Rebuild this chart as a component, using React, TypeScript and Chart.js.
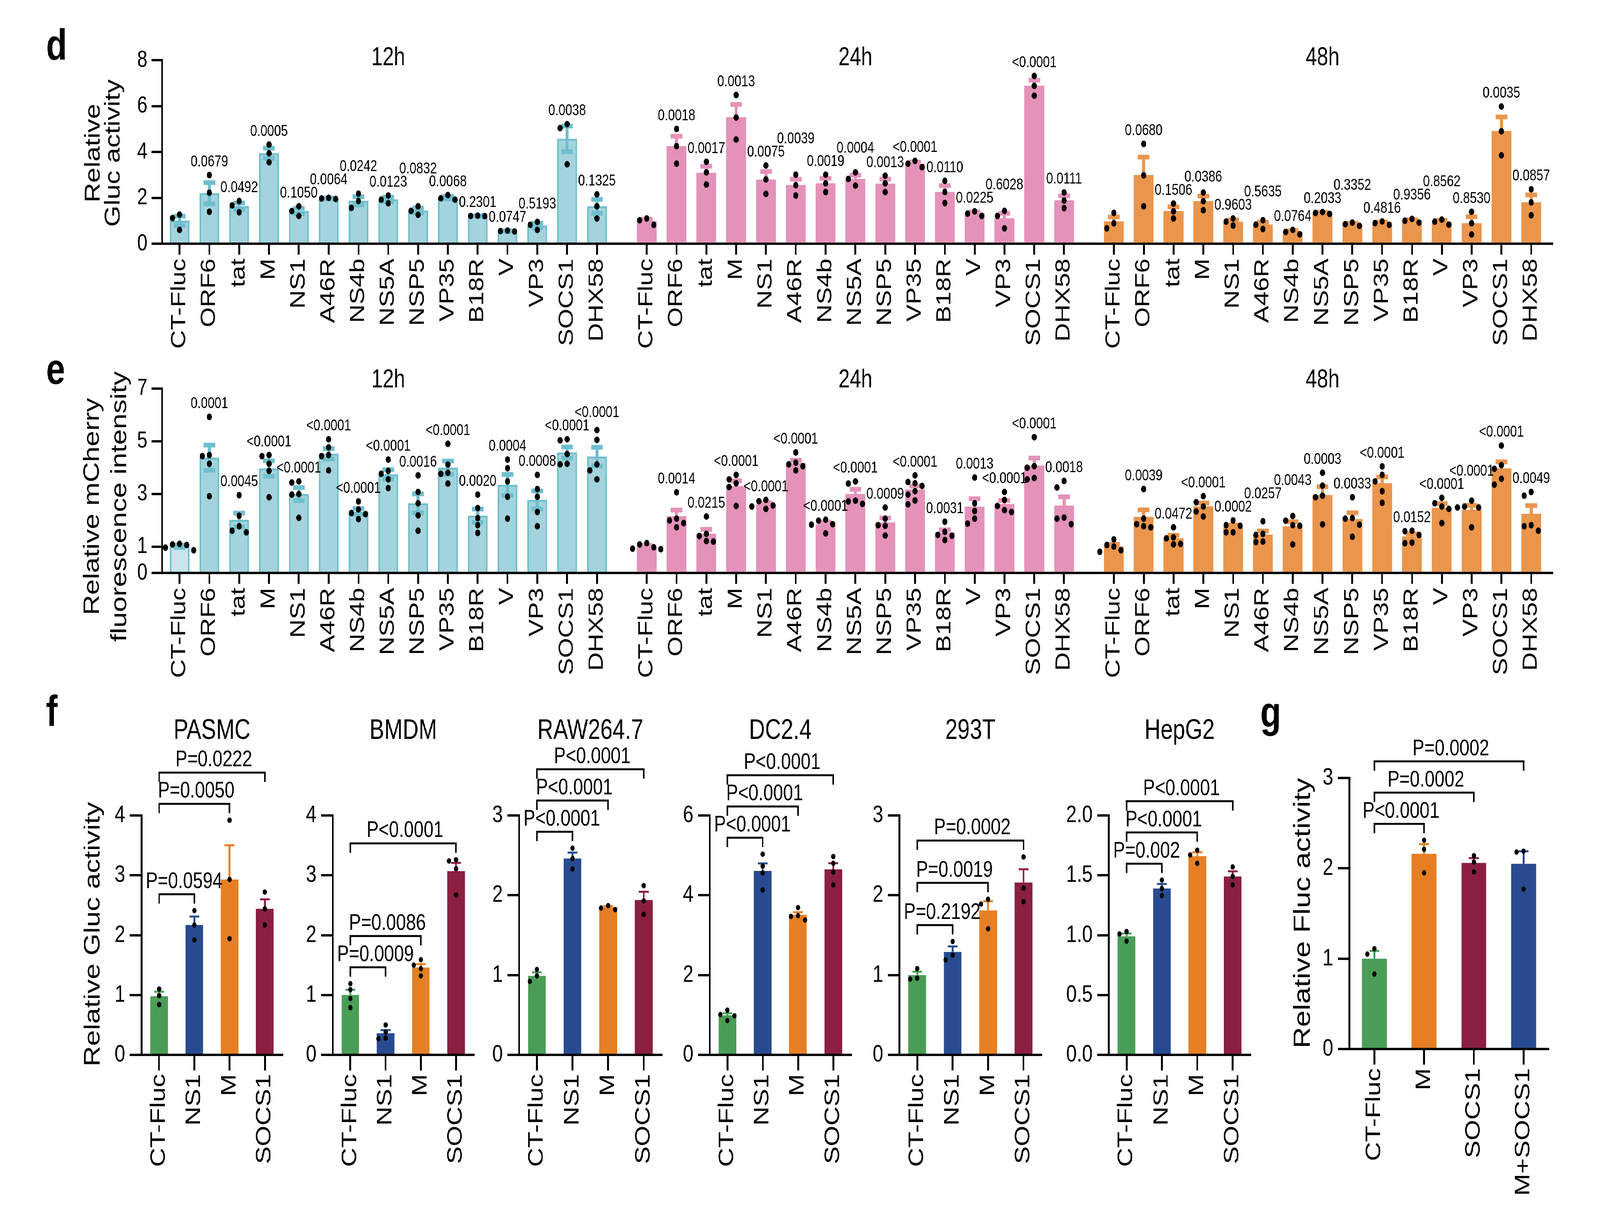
import React, { useEffect, useRef } from 'react';
import { Chart, registerables } from 'chart.js';

Chart.register(...registerables);

const FONT = "'Liberation Sans', Arial, Helvetica, sans-serif";
const PAGE_W = 5212;
const PAGE_H = 3152;

// ================= Panels d & e : data =================
const GENES = ['CT-Fluc', 'ORF6', 'tat', 'M', 'NS1', 'A46R', 'NS4b', 'NS5A', 'NSP5', 'VP35', 'B18R', 'V', 'VP3', 'SOCS1', 'DHX58'];
const TIMEPOINTS = ['12h', '24h', '48h'];

// d : Relative Gluc activity
const GLUC_12H_MEAN = [1.0, 2.2, 1.63, 3.94, 1.42, 1.97, 1.87, 1.93, 1.44, 2.01, 1.21, 0.55, 0.79, 4.57, 1.63];
const GLUC_12H_POINTS = [
  [1.27, 1.12, 0.6], [2.99, 2.22, 1.39], [1.86, 1.67, 1.37], [4.32, 3.94, 3.55], [1.63, 1.42, 1.21],
  [2.0, 1.97, 1.95], [2.18, 1.86, 1.56], [2.1, 1.92, 1.76], [1.63, 1.43, 1.26], [2.12, 1.98, 1.92],
  [1.22, 1.21, 1.2], [0.57, 0.55, 0.53], [0.95, 0.82, 0.6], [5.21, 5.04, 3.46], [2.15, 1.63, 1.1],
];
const GLUC_12H_P = ['', '0.0679', '0.0492', '0.0005', '0.1050', '0.0064', '0.0242', '0.0123', '0.0832', '0.0068', '0.2301', '0.0747', '0.5193', '0.0038', '0.1325'];

const GLUC_24H_MEAN = [0.98, 4.25, 3.09, 5.51, 2.79, 2.55, 2.63, 2.82, 2.61, 3.48, 2.25, 1.33, 1.1, 6.88, 1.89];
const GLUC_24H_POINTS = [
  [1.1, 1.02, 0.82], [5.0, 4.25, 3.49], [3.57, 3.11, 2.58], [6.48, 5.5, 4.54], [3.41, 2.8, 2.17],
  [3.01, 2.55, 2.1], [3.01, 2.63, 2.25], [3.11, 2.82, 2.53], [2.96, 2.63, 2.25], [3.61, 3.49, 3.33],
  [2.74, 2.25, 1.77], [1.41, 1.31, 1.21], [1.43, 1.21, 0.67], [7.31, 6.88, 6.45], [2.23, 1.88, 1.55],
];
const GLUC_24H_P = ['', '0.0018', '0.0017', '0.0013', '0.0075', '0.0039', '0.0019', '0.0004', '0.0013', '<0.0001', '0.0110', '0.0225', '0.6028', '<0.0001', '0.0111'];

const GLUC_48H_MEAN = [0.97, 2.99, 1.42, 1.85, 0.95, 0.83, 0.51, 1.34, 0.85, 0.9, 1.0, 0.95, 0.89, 4.91, 1.8];
const GLUC_48H_POINTS = [
  [1.34, 0.89, 0.67], [4.35, 2.98, 1.63], [1.75, 1.41, 1.1], [2.23, 1.85, 1.46], [1.1, 0.96, 0.79],
  [1.02, 0.83, 0.64], [0.6, 0.51, 0.41], [1.38, 1.34, 1.3], [0.92, 0.85, 0.78], [0.97, 0.9, 0.82],
  [1.08, 1.0, 0.92], [1.05, 0.96, 0.83], [1.39, 0.89, 0.4], [5.98, 4.9, 3.85], [2.37, 1.8, 1.24],
];
const GLUC_48H_P = ['', '0.0680', '0.1506', '0.0386', '0.9603', '0.5635', '0.0764', '0.2033', '0.3352', '0.4816', '0.9356', '0.8562', '0.8530', '0.0035', '0.0857'];

// e : Relative mCherry fluorescence intensity
const MCH_12H_MEAN = [1.01, 4.37, 2.01, 3.96, 2.99, 4.52, 2.33, 3.74, 2.64, 3.99, 2.17, 3.34, 2.77, 4.57, 4.41];
const MCH_12H_POINTS = [
  [1.1, 1.08, 1.06, 0.96, 0.86], [5.92, 4.47, 4.43, 4.14, 2.91], [2.95, 2.17, 1.77, 1.6, 1.54],
  [4.47, 4.43, 4.14, 3.87, 2.87], [3.47, 3.43, 2.99, 2.97, 2.09], [5.07, 4.76, 4.47, 4.43, 3.89],
  [2.71, 2.41, 2.27, 2.23, 2.04], [4.3, 3.87, 3.76, 3.55, 3.22], [3.7, 3.07, 2.64, 2.18, 1.6],
  [4.9, 4.11, 3.8, 3.76, 3.39], [2.97, 2.46, 2.08, 1.81, 1.52], [4.3, 3.97, 3.47, 2.89, 2.06],
  [3.72, 3.18, 2.89, 2.31, 1.77], [5.07, 5.03, 4.51, 4.14, 4.12], [5.42, 5.05, 4.12, 3.89, 3.55],
];
const MCH_12H_P = ['', '0.0001', '0.0045', '<0.0001', '<0.0001', '<0.0001', '<0.0001', '<0.0001', '0.0016', '<0.0001', '0.0020', '0.0004', '0.0008', '<0.0001', '<0.0001'];

const MCH_24H_MEAN = [1.0, 2.15, 1.48, 3.29, 2.6, 4.16, 1.84, 2.99, 1.91, 3.16, 1.52, 2.51, 2.61, 4.07, 2.55];
const MCH_24H_POINTS = [
  [1.13, 1.08, 0.97, 0.92, 0.9], [3.06, 2.06, 1.99, 1.89, 1.73], [2.14, 1.48, 1.4, 1.21, 1.19],
  [3.72, 3.55, 3.4, 3.26, 2.54], [2.77, 2.72, 2.56, 2.52, 2.43], [4.57, 4.18, 4.12, 4.05, 3.89],
  [2.02, 1.98, 1.85, 1.83, 1.5], [3.47, 3.39, 2.74, 2.71, 2.62], [2.48, 2.06, 1.81, 1.79, 1.42],
  [3.7, 3.45, 3.4, 3.3, 3.1, 2.97, 2.75, 2.6], [1.94, 1.56, 1.44, 1.41, 1.25], [3.62, 2.64, 2.35, 2.06, 1.87],
  [3.07, 2.77, 2.54, 2.38, 2.31], [5.15, 4.05, 3.99, 3.6, 3.55], [3.49, 3.24, 2.1, 2.06, 1.85],
];
const MCH_24H_P = ['', '0.0014', '0.0215', '<0.0001', '<0.0001', '<0.0001', '<0.0001', '<0.0001', '0.0009', '<0.0001', '0.0031', '0.0013', '<0.0001', '<0.0001', '0.0018'];

const MCH_48H_MEAN = [1.0, 2.12, 1.31, 2.52, 1.73, 1.45, 1.76, 2.95, 2.04, 3.4, 1.38, 2.47, 2.39, 3.96, 2.24];
const MCH_48H_POINTS = [
  [1.27, 1.06, 1.0, 0.86, 0.8], [3.18, 2.06, 1.85, 1.77, 1.73], [1.73, 1.35, 1.31, 1.1, 1.08],
  [2.91, 2.68, 2.52, 2.33, 2.14], [1.99, 1.81, 1.79, 1.54, 1.54], [1.96, 1.48, 1.44, 1.19, 1.17],
  [2.16, 1.98, 1.81, 1.79, 1.08], [3.8, 3.31, 2.93, 2.87, 1.84], [2.87, 2.08, 2.06, 1.83, 1.37],
  [4.04, 3.72, 3.47, 3.1, 2.66], [1.6, 1.58, 1.44, 1.13, 1.15], [2.85, 2.64, 2.52, 2.43, 1.89],
  [2.74, 2.52, 2.48, 2.48, 1.73], [4.83, 4.09, 3.95, 3.57, 3.35], [3.07, 2.93, 1.81, 1.77, 1.6],
];
const MCH_48H_P = ['', '0.0039', '0.0472', '<0.0001', '0.0002', '0.0257', '0.0043', '0.0003', '0.0033', '<0.0001', '0.0152', '<0.0001', '<0.0001', '<0.0001', '0.0049'];

const D_TICKS = [0, 2, 4, 6, 8];
const E_TICKS = [0, 1, 3, 5, 7];

// ================= Panels f & g : data =================
const CELL_GENES = ['CT-Fluc', 'NS1', 'M', 'SOCS1'];

const PASMC_MEAN = [0.98, 2.17, 2.93, 2.44];
const PASMC_POINTS = [[1.1, 0.99, 0.84], [2.41, 2.17, 1.92], [3.92, 2.93, 1.94], [2.72, 2.44, 2.17]];
const PASMC_P = ['P=0.0594', 'P=0.0050', 'P=0.0222'];

const BMDM_MEAN = [1.0, 0.36, 1.46, 3.07];
const BMDM_POINTS = [[1.19, 1.09, 0.94, 0.79], [0.5, 0.38, 0.28, 0.27], [1.59, 1.5, 1.44, 1.32], [3.26, 3.24, 3.11, 2.67]];
const BMDM_P = ['P=0.0009', 'P=0.0086', 'P<0.0001'];

const RAW_MEAN = [0.99, 2.46, 1.85, 1.94];
const RAW_POINTS = [[1.07, 0.99, 0.92], [2.59, 2.46, 2.33], [1.87, 1.84, 1.82], [2.12, 1.93, 1.76]];
const RAW_P = ['P<0.0001', 'P<0.0001', 'P<0.0001'];

const DC_MEAN = [0.99, 4.61, 3.51, 4.65];
const DC_POINTS = [[1.12, 1.01, 0.98, 0.86], [5.03, 4.73, 4.56, 4.13], [3.69, 3.49, 3.47, 3.38], [4.97, 4.8, 4.58, 4.26]];
const DC_P = ['P<0.0001', 'P<0.0001', 'P<0.0001'];

const T293_MEAN = [1.0, 1.29, 1.81, 2.16];
const T293_POINTS = [[1.08, 0.96, 0.95], [1.42, 1.25, 1.19], [1.95, 1.89, 1.58], [2.48, 2.09, 1.92]];
const T293_P = ['P=0.2192', 'P=0.0019', 'P=0.0002'];

const HEPG2_MEAN = [0.99, 1.39, 1.66, 1.49];
const HEPG2_POINTS = [[1.03, 1.01, 0.95], [1.46, 1.39, 1.33], [1.71, 1.67, 1.6], [1.57, 1.49, 1.42]];
const HEPG2_P = ['P=0.002', 'P<0.0001', 'P<0.0001'];

const G_GENES = ['CT-Fluc', 'M', 'SOCS1', 'M+SOCS1'];
const FLUC_MEAN = [1.0, 2.16, 2.06, 2.05];
const FLUC_POINTS = [[1.11, 1.05, 0.83], [2.31, 2.21, 1.95], [2.14, 2.07, 1.96], [2.19, 2.18, 1.77]];
const FLUC_P = ['P<0.0001', 'P=0.0002', 'P=0.0002'];

// ================= styles =================
const GROUP_FILL = ['#a3d3dc', '#e492b9', '#ea954c'];
const GROUP_EDGE = ['#6fbfcd', '#e492b9', '#ea954c'];
const CTRL_LIGHT = '#c7e5eb';
const GREEN = '#4a9d57';
const BLUE = '#284a90';
const ORANGE = '#e67f24';
const MAROON = '#8b1f40';

type Rect = { x: number; y: number; w: number; h: number };
type Area = { left: number; top: number; right: number; bottom: number };

function sem(a: number[]) {
  const n = a.length;
  const m = a.reduce((s, v) => s + v, 0) / n;
  const v = a.reduce((s, x) => s + (x - m) * (x - m), 0) / (n - 1);
  return Math.sqrt(v / n);
}

function swarmOffsets(vals: number[], toPx: (v: number) => number, r: number, step: number) {
  const idx = vals.map((_, i) => i).sort((a, b) => vals[b] - vals[a]);
  const placed: { x: number; y: number }[] = [];
  const offs = vals.map(() => 0);
  const minD = 2 * r + 1;
  for (const i of idx) {
    const y = toPx(vals[i]);
    const cands = [0];
    for (let k = 1; k < 10; k++) cands.push(-k * step, k * step);
    for (const c of cands) {
      if (placed.every((p) => Math.hypot(p.x - c, p.y - y) >= minD)) {
        offs[i] = c;
        placed.push({ x: c, y });
        break;
      }
    }
  }
  return offs;
}

function boxOf(rect: Rect, area: Area) {
  return {
    padding: { left: 0, top: area.top - rect.y, right: rect.x + rect.w - area.right, bottom: 0 },
    yWidth: area.left - rect.x,
    xHeight: rect.y + rect.h - area.bottom,
  };
}

function drawRotated(ctx: CanvasRenderingContext2D, text: string, x: number, y: number, size: number) {
  ctx.save();
  ctx.translate(x, y);
  ctx.rotate(-Math.PI / 2);
  ctx.font = `${size}px ${FONT}`;
  ctx.fillStyle = '#000';
  ctx.textAlign = 'center';
  ctx.textBaseline = 'alphabetic';
  ctx.fillText(text, 0, 0);
  ctx.restore();
}

function drawLetter(ctx: CanvasRenderingContext2D, t: string, x: number, y: number) {
  ctx.save();
  ctx.font = `bold 112px ${FONT}`;
  ctx.fillStyle = '#000';
  ctx.textAlign = 'left';
  ctx.textBaseline = 'alphabetic';
  ctx.fillText(t, x, y);
  ctx.restore();
}

// ================= grouped panels (d, e) =================
const GROUP_STEP = 15.67;
const X_POS: number[] = [];
TIMEPOINTS.forEach((_, g) => GENES.forEach((__, i) => X_POS.push(g * GROUP_STEP + i)));
const X_LABELS: string[] = [];
TIMEPOINTS.forEach(() => GENES.forEach((n) => X_LABELS.push(n)));

type GroupPanel = {
  rect: Rect;
  area: Area;
  yMax: number;
  yTicks: number[];
  means: number[][];
  points: number[][][];
  pvals: string[][];
  letter: string;
  letterXY: [number, number];
  yTitle: { text: string; base: number }[];
  yTitleCy: number;
  yTitleSize: number;
  titleBase: number;
  lightCtrl: boolean;
};

const GROUP_PANELS: GroupPanel[] = [
  {
    rect: { x: 0, y: 0, w: 5212, h: 950 },
    area: { left: 528, top: 154, right: 5056, bottom: 624 },
    yMax: 8,
    yTicks: D_TICKS,
    means: [GLUC_12H_MEAN, GLUC_24H_MEAN, GLUC_48H_MEAN],
    points: [GLUC_12H_POINTS, GLUC_24H_POINTS, GLUC_48H_POINTS],
    pvals: [GLUC_12H_P, GLUC_24H_P, GLUC_48H_P],
    letter: 'd',
    letterXY: [150, 153],
    yTitle: [{ text: 'Relative', base: 325 }, { text: 'Gluc activity', base: 390 }],
    yTitleCy: 392,
    yTitleSize: 70,
    titleBase: 167,
    lightCtrl: false,
  },
  {
    rect: { x: 0, y: 900, w: 5212, h: 900 },
    area: { left: 528, top: 994.5, right: 5056, bottom: 1467 },
    yMax: 7,
    yTicks: E_TICKS,
    means: [MCH_12H_MEAN, MCH_24H_MEAN, MCH_48H_MEAN],
    points: [MCH_12H_POINTS, MCH_24H_POINTS, MCH_48H_POINTS],
    pvals: [MCH_12H_P, MCH_24H_P, MCH_48H_P],
    letter: 'e',
    letterXY: [150, 983],
    yTitle: [{ text: 'Relative mCherry', base: 322 }, { text: 'fluorescence intensity', base: 411 }],
    yTitleCy: 1297,
    yTitleSize: 72,
    titleBase: 992,
    lightCtrl: true,
  },
];

function makeGroupChart(canvas: HTMLCanvasElement, p: GroupPanel) {
  const box = boxOf(p.rect, p.area);
  const flatMeans: number[] = [];
  p.means.forEach((m) => m.forEach((v) => flatMeans.push(v)));
  const R = 8.5;
  const pxPerUnit = 97.11;
  const xMin = -(585 - p.area.left) / pxPerUnit;
  const xMax = xMin + (p.area.right - p.area.left) / pxPerUnit;
  let tops: number[] = [];

  const annot = {
    id: 'groupAnnot',
    afterDatasetsDraw(chart: any) {
      const ctx: CanvasRenderingContext2D = chart.ctx;
      const xs = chart.scales.x;
      const ys = chart.scales.y;
      tops = [];
      ctx.save();
      for (let g = 0; g < 3; g++) {
        for (let i = 0; i < GENES.length; i++) {
          const k = g * GENES.length + i;
          const x = xs.getPixelForValue(X_POS[k]);
          const pts = p.points[g][i];
          const m = p.means[g][i];
          const e = sem(pts);
          const yT = ys.getPixelForValue(m + e);
          const yB = ys.getPixelForValue(Math.max(0, m - e));
          ctx.strokeStyle = GROUP_EDGE[g];
          ctx.fillStyle = GROUP_EDGE[g];
          ctx.lineWidth = 10;
          ctx.beginPath();
          ctx.moveTo(x, yT);
          ctx.lineTo(x, yB);
          ctx.stroke();
          ctx.fillRect(x - 19, yT - 6, 38, 12);
          ctx.fillRect(x - 19, yB - 6, 38, 12);
          const offs = swarmOffsets(pts, (v) => ys.getPixelForValue(v), R, 2 * R + 6);
          ctx.fillStyle = '#000';
          pts.forEach((v, j) => {
            ctx.beginPath();
            ctx.arc(x + offs[j], ys.getPixelForValue(v), R, 0, Math.PI * 2);
            ctx.fill();
          });
          const maxDot = ys.getPixelForValue(Math.max(...pts)) - R;
          tops[k] = Math.min(maxDot, yT - 6);
        }
      }
      ctx.restore();
    },
    afterDraw(chart: any) {
      const ctx: CanvasRenderingContext2D = chart.ctx;
      const xs = chart.scales.x;
      const ox = p.rect.x;
      const oy = p.rect.y;
      ctx.save();
      // p-value labels with simple collision avoidance
      ctx.font = `40px ${FONT}`;
      ctx.fillStyle = '#000';
      ctx.textAlign = 'center';
      ctx.textBaseline = 'alphabetic';
      const placed: { l: number; r: number; t: number; b: number }[] = [];
      const th = 30;
      for (let g = 0; g < 3; g++) {
        for (let i = 0; i < GENES.length; i++) {
          const txt = p.pvals[g][i];
          if (!txt) continue;
          const k = g * GENES.length + i;
          const x = xs.getPixelForValue(X_POS[k]);
          const w = ctx.measureText(txt).width;
          const l = x - w / 2;
          const r = x + w / 2;
          let b = tops[k] - 14;
          let moved = true;
          let guard = 0;
          while (moved && guard < 50) {
            moved = false;
            guard++;
            for (const q of placed) {
              if (l < q.r - 3 && r > q.l + 3 && b - th < q.b && b > q.t) {
                b = q.t - 4;
                moved = true;
              }
            }
          }
          placed.push({ l, r, t: b - th, b });
          ctx.fillText(txt, x, b);
        }
      }
      // timepoint titles
      ctx.font = `66px ${FONT}`;
      TIMEPOINTS.forEach((t, g) => {
        const a = xs.getPixelForValue(X_POS[g * GENES.length]);
        const z = xs.getPixelForValue(X_POS[g * GENES.length + GENES.length - 1]);
        ctx.fillText(t, (a + z) / 2, p.titleBase - oy);
      });
      ctx.restore();
      p.yTitle.forEach((line) => drawRotated(ctx, line.text, line.base - ox, p.yTitleCy - oy, p.yTitleSize));
      drawLetter(ctx, p.letter, p.letterXY[0] - ox, p.letterXY[1] - oy);
    },
  };

  return new Chart(canvas, {
    type: 'bar',
    data: {
      datasets: [
        {
          data: X_POS.map((x, k) => ({ x, y: flatMeans[k] })),
          backgroundColor: (c: any) => {
            const g = Math.floor(c.dataIndex / GENES.length);
            if (p.lightCtrl && c.dataIndex === 0) return CTRL_LIGHT;
            return GROUP_FILL[g];
          },
          borderColor: (c: any) => GROUP_EDGE[Math.floor(c.dataIndex / GENES.length)],
          borderWidth: (c: any) => (c.dataIndex < GENES.length ? 5 : 0),
          barThickness: 64,
          grouped: false,
        } as any,
      ],
    },
    options: {
      animation: false,
      responsive: false,
      devicePixelRatio: 1,
      events: [],
      layout: { padding: box.padding },
      plugins: { legend: { display: false }, tooltip: { enabled: false } },
      scales: {
        x: {
          type: 'linear',
          min: xMin,
          max: xMax,
          bounds: 'data',
          offset: false,
          z: 1,
          afterBuildTicks: (s: any) => {
            s.ticks = X_POS.map((v) => ({ value: v }));
          },
          afterFit: (s: any) => {
            s.height = box.xHeight;
          },
          ticks: {
            autoSkip: false,
            minRotation: 90,
            maxRotation: 90,
            padding: 10,
            color: '#000',
            font: { family: FONT, size: 66 },
            callback: (_v: any, i: number) => X_LABELS[i],
          },
          grid: { display: true, drawOnChartArea: false, offset: false, tickLength: 28, lineWidth: 6, tickWidth: 6, color: '#000' },
          border: { display: true, width: 6, color: '#000' },
        },
        y: {
          min: 0,
          max: p.yMax,
          z: 1,
          afterBuildTicks: (s: any) => {
            s.ticks = p.yTicks.map((v) => ({ value: v }));
          },
          afterFit: (s: any) => {
            s.width = box.yWidth;
          },
          ticks: { color: '#000', padding: 14, font: { family: FONT, size: 60 } },
          grid: { display: true, drawOnChartArea: false, tickLength: 34, lineWidth: 6, tickWidth: 6, color: '#000' },
          border: { display: true, width: 6, color: '#000' },
        },
      },
    } as any,
    plugins: [annot as any],
  });
}

// ================= single panels (f, g) =================
type CellPanel = {
  rect: Rect;
  area: Area;
  cats: string[];
  colors: string[];
  means: number[];
  points: number[][];
  pvals: string[];
  yMax: number;
  yStep: number;
  decimals: number;
  title?: string;
  letter?: [string, number, number];
  yTitle?: { text: string; base: number; cy: number; size: number };
};

const F_TOP = 2088;
const F_BOTTOM = 2701;
const F_COLORS = [GREEN, BLUE, ORANGE, MAROON];

const CELL_PANELS: CellPanel[] = [
  {
    rect: { x: 100, y: 1760, w: 900, h: 1392 },
    area: { left: 461, top: F_TOP, right: 920, bottom: F_BOTTOM },
    cats: CELL_GENES, colors: F_COLORS, means: PASMC_MEAN, points: PASMC_POINTS, pvals: PASMC_P,
    yMax: 4, yStep: 1, decimals: 0, title: 'PASMC', letter: ['f', 150, 1859],
    yTitle: { text: 'Relative Gluc activity', base: 324, cy: 2392, size: 73 },
  },
  {
    rect: { x: 830, y: 1760, w: 790, h: 1392 },
    area: { left: 1084, top: F_TOP, right: 1543, bottom: F_BOTTOM },
    cats: CELL_GENES, colors: F_COLORS, means: BMDM_MEAN, points: BMDM_POINTS, pvals: BMDM_P,
    yMax: 4, yStep: 1, decimals: 0, title: 'BMDM',
  },
  {
    rect: { x: 1440, y: 1760, w: 795, h: 1392 },
    area: { left: 1691, top: F_TOP, right: 2155, bottom: F_BOTTOM },
    cats: CELL_GENES, colors: F_COLORS, means: RAW_MEAN, points: RAW_POINTS, pvals: RAW_P,
    yMax: 3, yStep: 1, decimals: 0, title: 'RAW264.7',
  },
  {
    rect: { x: 2060, y: 1760, w: 790, h: 1392 },
    area: { left: 2312, top: F_TOP, right: 2772, bottom: F_BOTTOM },
    cats: CELL_GENES, colors: F_COLORS, means: DC_MEAN, points: DC_POINTS, pvals: DC_P,
    yMax: 6, yStep: 2, decimals: 0, title: 'DC2.4',
  },
  {
    rect: { x: 2680, y: 1760, w: 790, h: 1392 },
    area: { left: 2930, top: F_TOP, right: 3392, bottom: F_BOTTOM },
    cats: CELL_GENES, colors: F_COLORS, means: T293_MEAN, points: T293_POINTS, pvals: T293_P,
    yMax: 3, yStep: 1, decimals: 0, title: '293T',
  },
  {
    rect: { x: 3360, y: 1760, w: 790, h: 1392 },
    area: { left: 3612, top: F_TOP, right: 4073, bottom: F_BOTTOM },
    cats: CELL_GENES, colors: F_COLORS, means: HEPG2_MEAN, points: HEPG2_POINTS, pvals: HEPG2_P,
    yMax: 2, yStep: 0.5, decimals: 1, title: 'HepG2',
  },
  {
    rect: { x: 4080, y: 1760, w: 1132, h: 1392 },
    area: { left: 4396, top: 1992, right: 5044, bottom: 2686 },
    cats: G_GENES, colors: [GREEN, ORANGE, MAROON, BLUE], means: FLUC_MEAN, points: FLUC_POINTS, pvals: FLUC_P,
    yMax: 3, yStep: 1, decimals: 0, letter: ['g', 4105, 1862],
    yTitle: { text: 'Relative Fluc activity', base: 4267, cy: 2338, size: 76 },
  },
];

function makeCellChart(canvas: HTMLCanvasElement, p: CellPanel) {
  const box = boxOf(p.rect, p.area);
  const R = 7;
  let tops: number[] = [];
  const annot = {
    id: 'cellAnnot',
    afterDatasetsDraw(chart: any) {
      const ctx: CanvasRenderingContext2D = chart.ctx;
      const xs = chart.scales.x;
      const ys = chart.scales.y;
      tops = [];
      ctx.save();
      p.means.forEach((m, i) => {
        const x = xs.getPixelForValue(i);
        const pts = p.points[i];
        const e = sem(pts);
        const yT = ys.getPixelForValue(m + e);
        const yM = ys.getPixelForValue(m);
        ctx.strokeStyle = p.colors[i];
        ctx.fillStyle = p.colors[i];
        ctx.lineWidth = 6;
        ctx.beginPath();
        ctx.moveTo(x, yT);
        ctx.lineTo(x, yM);
        ctx.stroke();
        ctx.fillRect(x - 16, yT - 2.5, 32, 5);
        const offs = swarmOffsets(pts, (v) => ys.getPixelForValue(v), R, 2 * R + 9);
        ctx.fillStyle = '#000';
        pts.forEach((v, j) => {
          ctx.beginPath();
          ctx.arc(x + offs[j], ys.getPixelForValue(v), R, 0, Math.PI * 2);
          ctx.fill();
        });
        tops[i] = Math.min(ys.getPixelForValue(Math.max(...pts)) - R, yT - 3);
      });
      ctx.restore();
    },
    afterDraw(chart: any) {
      const ctx: CanvasRenderingContext2D = chart.ctx;
      const xs = chart.scales.x;
      const ox = p.rect.x;
      const oy = p.rect.y;
      ctx.save();
      // significance brackets: control vs each other bar
      ctx.strokeStyle = '#000';
      ctx.lineWidth = 5;
      ctx.lineJoin = 'miter';
      ctx.lineCap = 'butt';
      ctx.fillStyle = '#000';
      ctx.font = `58px ${FONT}`;
      ctx.textAlign = 'center';
      ctx.textBaseline = 'alphabetic';
      let lastTextTop = Infinity;
      const axisLeft = chart.chartArea.left;
      p.pvals.forEach((txt, b) => {
        const to = b + 1;
        const x1 = xs.getPixelForValue(0);
        const x2 = xs.getPixelForValue(to);
        let top = Infinity;
        for (let i = 0; i <= to; i++) top = Math.min(top, tops[i]);
        let y = top - 35;
        y = Math.min(y, lastTextTop - 22);
        ctx.beginPath();
        ctx.moveTo(x1, y + 24);
        ctx.lineTo(x1, y);
        ctx.lineTo(x2, y);
        ctx.lineTo(x2, y + 24);
        ctx.stroke();
        const w = ctx.measureText(txt).width;
        const cx = Math.max((x1 + x2) / 2 + 6, axisLeft + 14 + w / 2);
        ctx.fillText(txt, cx, y - 16);
        lastTextTop = y - 16 - 42;
      });
      if (p.title) {
        ctx.font = `72px ${FONT}`;
        ctx.fillText(p.title, (chart.chartArea.left + chart.chartArea.right) / 2, 1892 - oy);
      }
      ctx.restore();
      if (p.yTitle) drawRotated(ctx, p.yTitle.text, p.yTitle.base - ox, p.yTitle.cy - oy, p.yTitle.size);
      if (p.letter) drawLetter(ctx, p.letter[0], p.letter[1] - ox, p.letter[2] - oy);
    },
  };

  return new Chart(canvas, {
    type: 'bar',
    data: {
      labels: p.cats,
      datasets: [
        {
          data: p.means,
          backgroundColor: p.colors,
          borderWidth: 0,
          barPercentage: 0.5,
          categoryPercentage: 1,
        },
      ],
    },
    options: {
      animation: false,
      responsive: false,
      devicePixelRatio: 1,
      events: [],
      layout: { padding: box.padding },
      plugins: { legend: { display: false }, tooltip: { enabled: false } },
      scales: {
        x: {
          type: 'category',
          offset: true,
          z: 1,
          afterFit: (s: any) => {
            s.height = box.xHeight;
          },
          ticks: {
            autoSkip: false,
            minRotation: 90,
            maxRotation: 90,
            padding: 9,
            color: '#000',
            font: { family: FONT, size: 68 },
          },
          grid: { display: true, drawOnChartArea: false, offset: false, tickLength: 40, lineWidth: 6, tickWidth: 6, color: '#000' },
          border: { display: true, width: 6, color: '#000' },
        },
        y: {
          min: 0,
          max: p.yMax,
          z: 1,
          afterFit: (s: any) => {
            s.width = box.yWidth;
          },
          ticks: {
            stepSize: p.yStep,
            color: '#000',
            padding: 15,
            font: { family: FONT, size: 62 },
            callback: (v: any) => Number(v).toFixed(p.decimals),
          },
          grid: { display: true, drawOnChartArea: false, tickLength: 38, lineWidth: 6, tickWidth: 6, color: '#000' },
          border: { display: true, width: 6, color: '#000' },
        },
      },
    } as any,
    plugins: [annot as any],
  });
}

// fit the 5212 x 3152 drawing into whatever viewport the page gets
function viewportScale() {
  if (typeof window === 'undefined') return { sx: 1, sy: 1, vw: PAGE_W, vh: PAGE_H };
  const vw = window.innerWidth || PAGE_W;
  const vh = window.innerHeight || PAGE_H;
  return { sx: vw / PAGE_W, sy: vh / PAGE_H, vw, vh };
}

export default function App() {
  const refs = useRef<(HTMLCanvasElement | null)[]>([]);
  const { sx, sy, vw, vh } = viewportScale();
  useEffect(() => {
    document.documentElement.style.overflow = 'hidden';
    document.body.style.margin = '0';
    document.body.style.overflow = 'hidden';
    const charts: Chart[] = [];
    GROUP_PANELS.forEach((p, i) => {
      const c = refs.current[i];
      if (c) charts.push(makeGroupChart(c, p));
    });
    CELL_PANELS.forEach((p, j) => {
      const c = refs.current[GROUP_PANELS.length + j];
      if (c) charts.push(makeCellChart(c, p));
    });
    return () => charts.forEach((c) => c.destroy());
  }, []);
  const rects = [...GROUP_PANELS.map((p) => p.rect), ...CELL_PANELS.map((p) => p.rect)];
  return (
    <div style={{ position: 'absolute', left: 0, top: 0, width: vw, height: vh, overflow: 'hidden', background: '#fff' }}>
      <div
        style={{
          position: 'absolute',
          left: 0,
          top: 0,
          width: PAGE_W,
          height: PAGE_H,
          background: '#fff',
          transform: `scale(${sx}, ${sy})`,
          transformOrigin: '0 0',
        }}
      >
        {rects.map((r, i) => (
          <canvas
            key={i}
            ref={(el) => {
              refs.current[i] = el;
            }}
            width={r.w}
            height={r.h}
            style={{ position: 'absolute', left: r.x, top: r.y, width: r.w, height: r.h }}
          />
        ))}
      </div>
    </div>
  );
}
